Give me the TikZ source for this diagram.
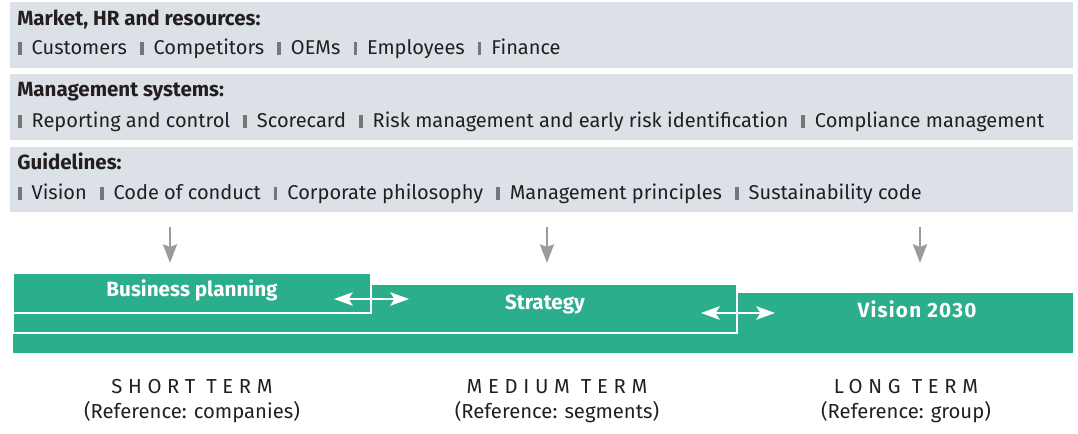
\documentclass[tikz,border=0pt]{standalone}
\usepackage{fontspec}
\setmainfont{Fira Sans}
\usetikzlibrary{arrows.meta}

\definecolor{bandgray}{RGB}{220,224,231}
\definecolor{bargreen}{RGB}{43,174,139}
\definecolor{bargray}{RGB}{118,118,118}
\definecolor{arrowgray}{RGB}{155,155,158}
\definecolor{txtdark}{RGB}{35,31,32}

\newcommand{\itm}{{\color{bargray}\rule{2.6pt}{10pt}}\hspace{0.5em}}
\newcommand{\nitm}{\unskip\hspace{0.66em}\itm}

\begin{document}
\begin{tikzpicture}[x=0.75pt,y=0.75pt,yscale=-1,xscale=1,
  headtxt/.style={anchor=base west,inner sep=0pt,align=left,text=txtdark,font=\fontsize{15.4}{17}\selectfont\bfseries},
  itemtxt/.style={anchor=base west,inner sep=0pt,align=left,text=txtdark,font=\fontsize{15}{17}\selectfont},
  bartxt/.style={anchor=base,inner sep=0.75pt,text=white,font=\fontsize{15.5}{17}\selectfont\bfseries},
  termtxt/.style={anchor=base,inner sep=0.75pt,text=txtdark,font=\fontsize{15.2}{17}\selectfont},
  downarrow/.style={draw=arrowgray,line width=1.6pt,-{Stealth[length=14pt,width=10.5pt,inset=2pt]}},
  swaparrow/.style={draw=white,line width=1.6pt,{Stealth[length=14pt,width=10pt,inset=3pt]}-{Stealth[length=14pt,width=10pt,inset=3pt]}}]
\useasboundingbox (0,0) rectangle (1078,434);
% grey bands
\fill [bandgray] (10,2) rectangle (1073,68) ;
\fill [bandgray] (10,74) rectangle (1073,140) ;
\fill [bandgray] (10,147) rectangle (1073,212) ;
\draw (17,26) node (mktHead) [headtxt] {Market, HR and resources:};
\draw (18,55) node (mktItems) [itemtxt] {\itm Customers \nitm Competitors \nitm OEMs \nitm Employees \nitm Finance};
\draw (17,97) node (sysHead) [headtxt] {Management systems:};
\draw (18,128) node (sysItems) [itemtxt] {\itm Reporting and control \nitm Scorecard \nitm Risk management and early risk identification \nitm Compliance management};
\draw (17,170) node (guideHead) [headtxt] {Guidelines:};
\draw (18,200) node (guideItems) [itemtxt] {\itm Vision \nitm Code of conduct \nitm Corporate philosophy \nitm Management principles \nitm Sustainability code};
% grey arrows
\coordinate (shortIn) at (170,227) ;
\coordinate (shortOut) at (170,263) ;
\coordinate (mediumIn) at (547,227) ;
\coordinate (mediumOut) at (547,263) ;
\coordinate (longIn) at (920,227) ;
\coordinate (longOut) at (920,263) ;
\draw [downarrow] (shortIn) -- (shortOut) ;
\draw [downarrow] (mediumIn) -- (mediumOut) ;
\draw [downarrow] (longIn) -- (longOut) ;
% green bars
\fill [bargreen] (13,293) rectangle (1073,353) ;
\draw [fill=bargreen,draw=white,line width=1.6pt] (13,284) rectangle (737,333) ;
\draw [fill=bargreen,draw=white,line width=1.6pt] (13,273) rectangle (371,313) ;
\draw (192,297) node (bizPlan) [bartxt] {Business planning};
\draw (545,310) node (strategy) [bartxt] {Strategy};
\draw (917,318) node (vision) [bartxt] {\addfontfeature{LetterSpace=6}Vision 2030};
\coordinate (bizL) at (334,299) ;
\coordinate (bizR) at (409,299) ;
\coordinate (strL) at (701,313) ;
\coordinate (strR) at (775,313) ;
\draw [swaparrow] (bizL) -- (bizR) ;
\draw [swaparrow] (strL) -- (strR) ;
% time horizons
\draw (192,394) node (shortTerm) [termtxt] {\addfontfeature{LetterSpace=28}SHORT TERM};
\draw (192,418) node (shortRef) [termtxt] {(Reference: companies)};
\draw (557,394) node (mediumTerm) [termtxt] {\addfontfeature{LetterSpace=28}MEDIUM TERM};
\draw (557,418) node (mediumRef) [termtxt] {(Reference: segments)};
\draw (906,394) node (longTerm) [termtxt] {\addfontfeature{LetterSpace=28}LONG TERM};
\draw (906,418) node (longRef) [termtxt] {(Reference: group)};
\end{tikzpicture}
\end{document}
